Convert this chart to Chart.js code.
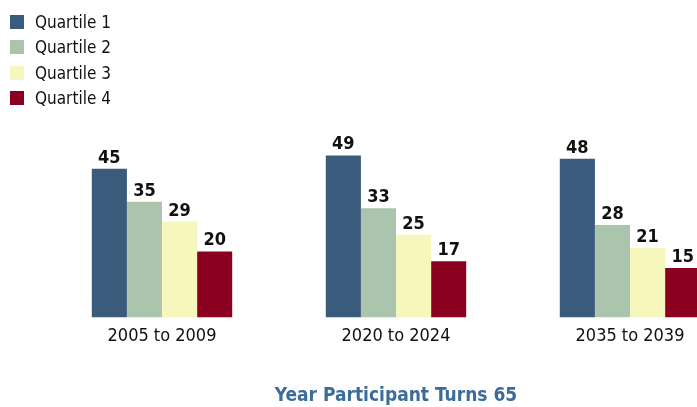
<!DOCTYPE html>
<html>
<head>
<meta charset="utf-8">
<script src="https://cdn.jsdelivr.net/npm/chart.js@4.4.1/dist/chart.umd.min.js"></script>
<style>
  html, body { margin: 0; padding: 0; background: #fff; overflow: hidden; }
  #wrap { position: relative; width: 750px; height: 407px; }
  #legend { position: absolute; left: 10px; top: 15px; font-family: 'DejaVu Sans Condensed', sans-serif; font-size: 17px; color: #111; }
  #legend div { height: 25.3px; position: relative; }
  #legend span.box { position: absolute; left: 0; top: 0; width: 14px; height: 14px; }
  #legend span.txt { position: absolute; left: 25px; top: -5px; line-height: 24px; white-space: nowrap; }
</style>
</head>
<body>
<div id="wrap">
  <canvas id="chart" width="750" height="407"></canvas>
  <div id="legend"></div>
</div>
<script>
const categories = ["2005 to 2009", "2020 to 2024", "2035 to 2039"];
const seriesNames = ["Quartile 1", "Quartile 2", "Quartile 3", "Quartile 4"];
const quartile1 = [45, 49, 48];
const quartile2 = [35, 33, 28];
const quartile3 = [29, 25, 21];
const quartile4 = [20, 17, 15];
const colors = ["#3b5b7d", "#abc4ad", "#f6f6bd", "#8b0020"];
const axisTitle = "Year Participant Turns 65";

const fontFam = "'DejaVu Sans Condensed', sans-serif";

const valueLabels = { // draws the number above every bar
  id: "valueLabels",
  afterDatasetsDraw(chart) {
    const ctx = chart.ctx;
    ctx.save();
    ctx.font = "bold 18px " + fontFam;
    ctx.fillStyle = "#111";
    ctx.textAlign = "center";
    ctx.textBaseline = "alphabetic";
    chart.data.datasets.forEach((ds, i) => {
      chart.getDatasetMeta(i).data.forEach((bar, j) => {
        ctx.fillText(ds.data[j], bar.x, bar.y - 6);
      });
    });
    ctx.restore();
  }
};

const allSeries = [quartile1, quartile2, quartile3, quartile4];
const dane = {
  labels: categories,
  datasets: allSeries.map((d, i) => ({
    label: seriesNames[i],
    data: d,
    backgroundColor: colors[i],
    borderWidth: 0,
    barPercentage: 1,
    categoryPercentage: 0.6
  }))
};

const ctx = document.getElementById("chart").getContext("2d");
const chart = new Chart(ctx, {
  type: "bar",
  data: dane,
  plugins: [valueLabels],
  options: {
    responsive: false,
    animation: false,
    layout: { padding: { left: 45, right: 3, top: 119, bottom: 0 } },
    plugins: {
      legend: { display: false },
      tooltip: { enabled: false }
    },
    scales: {
      x: {
        grid: { display: false, drawTicks: false },
        border: { display: false },
        ticks: { color: "#111", padding: 8, font: { family: fontFam, size: 18 } },
        title: {
          display: true,
          text: axisTitle,
          color: "#3c6c99",
          padding: { top: 29, bottom: 0 },
          font: { family: fontFam, size: 19, weight: "bold" }
        }
      },
      y: { display: false, min: 0, max: 60 }
    }
  }
});

// html legend, one entry per line
const leg = document.getElementById("legend");
chart.data.datasets.forEach(ds => {
  const row = document.createElement("div");
  row.innerHTML = '<span class="box" style="background:' + ds.backgroundColor + '"></span><span class="txt">' + ds.label + '</span>';
  leg.appendChild(row);
});
</script>
</body>
</html>
